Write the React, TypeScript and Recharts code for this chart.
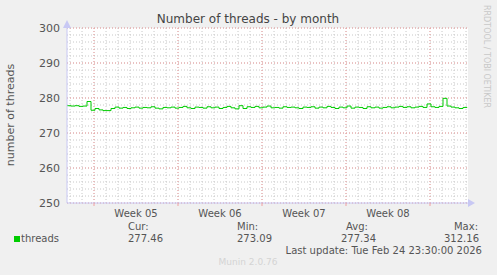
import {CartesianGrid, ComposedChart, Line, ReferenceLine, XAxis, YAxis} from "recharts";

// hours since the left edge of the graph, one sample every 8 hours
const hours: number[] = Array.from({length: 101}, (_, i) => i * 8);

const threads: number[] = [
    277.8, 277.7, 277.8, 277.6, 277.7, 279.0, 276.5, 277.0, 276.6, 276.4,
    276.4, 277.0, 277.4, 277.1, 277.3, 277.0, 277.2, 277.4, 277.1, 277.3,
    277.2, 277.5, 277.1, 276.9, 277.3, 277.2, 277.4, 277.1, 277.3, 277.6,
    277.2, 277.0, 277.4, 277.3, 277.1, 277.5, 277.2, 277.4, 277.0, 277.3,
    277.6, 277.2, 276.9, 277.8, 277.0, 277.5, 277.3, 277.6, 277.2, 277.4,
    277.7, 277.2, 277.3, 277.1, 277.5, 277.3, 277.4, 277.2, 277.0, 277.4,
    277.3, 277.5, 277.1, 277.4, 277.2, 277.6, 277.3, 277.0, 277.4, 277.2,
    277.7, 277.1, 277.4, 277.3, 277.0, 277.5, 277.2, 277.4, 277.1, 277.3,
    277.5, 277.2, 277.4, 277.6, 277.3, 277.5, 277.2, 277.4, 277.6, 277.3,
    278.3, 277.5, 277.3, 277.6, 279.9, 277.7, 277.4, 277.2, 277.0, 277.3,
    277.4,
];

const weekLabels = ["Week 05", "Week 06", "Week 07", "Week 08"];
const weekLines = [54, 222, 390, 558, 726];
const weekCenters = [138, 306, 474, 642];
const dayLines = Array.from({length: 34}, (_, i) => 6 + i * 24);
const yMajor = [250, 260, 270, 280, 290, 300];
const yMinor = Array.from({length: 26}, (_, i) => 250 + i * 2);

const legendStats = [
    {label: "Cur:", value: "277.46"},
    {label: "Min:", value: "273.09"},
    {label: "Avg:", value: "277.34"},
    {label: "Max:", value: "312.16"},
];

const data = hours.map((h, i) => ({h, threads: threads[i]}));

const FONT = "'DejaVu Sans', sans-serif";
const AXIS = "#c8c8f4";
const MGRID = "#f0a0a0";
const GRID = "#c8c8c8";

const XTick = (props: any) => {
    const {x, y, payload} = props;
    if (weekLines.includes(payload.value)) {
        return <line x1={x} x2={x} y1={y} y2={y + 3} stroke={MGRID}/>;
    }
    const idx = weekCenters.indexOf(payload.value);
    return (
        <text x={x} y={y + 14} textAnchor="middle" fill="#555" fontSize={10} fontFamily={FONT}>
            {weekLabels[idx]}
        </text>
    );
};

const App = () => {
    const txt = (extra: any) => ({position: "absolute" as const, fontFamily: FONT, fontSize: 10, color: "#555", lineHeight: "12px", whiteSpace: "nowrap" as const, ...extra});

    return (
        <div style={{position: "absolute", left: 0, top: 0, width: 497, height: 275, background: "#f0f0f0", overflow: "hidden"}}>
            <ComposedChart width={497} height={275} data={data}
                           margin={{top: 28, right: 29, bottom: 52, left: 0}}>
                <CartesianGrid fill="#ffffff" stroke="none" horizontal={false} vertical={false}/>
                {dayLines.map(d => (
                    <ReferenceLine key={'d' + d} x={d} stroke={GRID} strokeDasharray="1 2"/>
                ))}
                {yMinor.map(v => (
                    <ReferenceLine key={'m' + v} y={v} stroke={GRID} strokeDasharray="1 2"/>
                ))}
                {weekLines.map(d => (
                    <ReferenceLine key={'w' + d} x={d} stroke={MGRID} strokeDasharray="1 2"/>
                ))}
                {yMajor.map(v => (
                    <ReferenceLine key={'y' + v} y={v} stroke={MGRID} strokeDasharray="1 2"/>
                ))}
                <XAxis dataKey="h" type="number" domain={[0, 802]} allowDataOverflow
                       ticks={[...weekLines, ...weekCenters].sort((a, b) => a - b)}
                       interval={0} height={20} tickLine={false} tickSize={0} tickMargin={0}
                       axisLine={{stroke: AXIS}} tick={<XTick/>}/>
                <YAxis type="number" domain={[250, 300]} ticks={yMajor} width={67}
                       tickLine={false} tickSize={5} tickMargin={2}
                       axisLine={{stroke: AXIS}}
                       tick={{fill: "#555", fontSize: 11, fontFamily: FONT}}/>
                <Line type="stepAfter" dataKey="threads" stroke="#00cc00" strokeWidth={1}
                      dot={false} isAnimationActive={false}/>
            </ComposedChart>

            <svg width={497} height={275} style={{position: "absolute", left: 0, top: 0, pointerEvents: "none"}}>
                <polygon points="63,28 71,28 67,20" fill={AXIS}/>
                <polygon points="468,199 468,207 475,203" fill={AXIS}/>
                <text x={248} y={23} textAnchor="middle" fill="#444" fontSize={12} fontFamily={FONT}>
                    Number of threads - by month
                </text>
                <text transform="translate(14,115) rotate(-90)" textAnchor="middle" fill="#555"
                      fontSize={11} fontFamily={FONT}>number of threads</text>
                <text transform="translate(484,5) rotate(90)" textAnchor="start" fill="#c8c8c8"
                      fontSize={8} fontFamily={FONT}>RRDTOOL / TOBI OETIKER</text>
                <rect x={14} y={236} width={6} height={6} fill="#00cc00"/>
                <text x={248} y={265} textAnchor="middle" fill="#d4d4d4" fontSize={9} fontFamily={FONT}>
                    Munin 2.0.76
                </text>
            </svg>

            <div style={txt({left: 21, top: 233})}>threads</div>
            <div style={txt({left: 128, top: 221})}>{legendStats[0].label}</div>
            <div style={txt({left: 128, top: 233})}>{legendStats[0].value}</div>
            <div style={txt({left: 237, top: 221})}>{legendStats[1].label}</div>
            <div style={txt({left: 237, top: 233})}>{legendStats[1].value}</div>
            <div style={txt({left: 346, top: 221})}>{legendStats[2].label}</div>
            <div style={txt({left: 341, top: 233})}>{legendStats[2].value}</div>
            <div style={txt({right: 497 - 478, top: 221})}>{legendStats[3].label}</div>
            <div style={txt({right: 497 - 479, top: 233})}>{legendStats[3].value}</div>
            <div style={txt({right: 497 - 482, top: 245})}>Last update: Tue Feb 24 23:30:00 2026</div>
        </div>
    );
};

export default App;
